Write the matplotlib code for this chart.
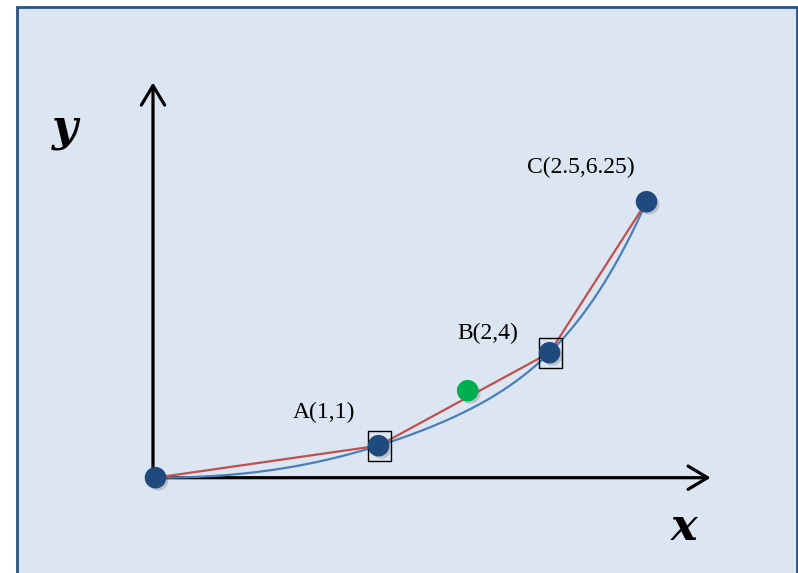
import numpy as np
import matplotlib
matplotlib.use("Agg")
import matplotlib.pyplot as plt
from matplotlib.patches import Rectangle
from matplotlib.path import Path
import matplotlib.patheffects as pe

# --- data -----------------------------------------------------------------
point_names = ["A", "B", "C"]
point_x = [1.0, 2.0, 2.5]
point_y = [1.0, 4.0, 6.25]
origin_x = [0.0]
origin_y = [0.0]
chord_x = [0.0, 1.0, 2.0, 2.5]          # secant polyline O-A-B-C
chord_y = [0.0, 1.0, 4.0, 6.25]
mid_x = [1.52]                           # highlighted point on chord AB
mid_y = [2.98]
boxed_x = [1.0, 2.0]                     # points framed by a box
boxed_y = [1.0, 4.0]
x_axis_end = 2.78
y_axis_end = 7.3

# --- a smooth, stretched schematic scale for each axis -------------------------
def _make_scale(c1, c2, c3, lo, hi):
    def fwd(v):
        v = np.asarray(v, dtype=float)
        return c1 * v + c2 * v ** 2 + c3 * v ** 3
    grid = np.linspace(lo, hi, 20001)
    gvals = fwd(grid)
    def inv(p):
        return np.interp(np.asarray(p, dtype=float), gvals, grid)
    return fwd, inv

fx, fx_inv = _make_scale(282.1, -75.6, 16.53, -3.0, 6.0)
fy, fy_inv = _make_scale(36.81, -5.953, 1.1405, -12.0, 14.0)

W, H = 798, 573
ox_px, oy_px = 155.5, 477.7     # where the origin sits on the canvas

fig = plt.figure(figsize=(W / 100, H / 100), dpi=100)
fig.patch.set_facecolor("white")

# slide panel
panel = Rectangle((17 / W, -0.02), (797 - 17) / W, (H - 7) / H + 0.02,
                  transform=fig.transFigure, facecolor="#DCE6F2",
                  edgecolor="#2C5282", linewidth=2.0, zorder=-5)
fig.patches.append(panel)

ax = fig.add_axes([0, 0, 1, 1])
ax.set_zorder(1)
ax.patch.set_alpha(0)
ax.set_xscale("function", functions=(fx, fx_inv))
ax.set_yscale("function", functions=(fy, fy_inv))
ax.set_xlim(float(fx_inv(-ox_px)), float(fx_inv(W - ox_px)))
ax.set_ylim(float(fy_inv(-(H - oy_px))), float(fy_inv(oy_px)))
ax.axis("off")

# coordinate axes with open arrow heads
x0 = float(fx_inv(-2.5))
y0 = float(fy_inv(-1.5))
arrow = dict(arrowstyle="->,head_length=0.7,head_width=0.42", lw=2.3,
             color="black", shrinkA=0, shrinkB=0, mutation_scale=20)
ax.annotate("", xy=(x_axis_end, 0), xytext=(x0 - 0.005, 0), arrowprops=arrow, zorder=2)
ax.annotate("", xy=(x0, y_axis_end), xytext=(x0, y0), arrowprops=arrow, zorder=2)

# the parabola y = x^2
curve_x = np.linspace(0, point_x[-1], 400)
curve_y = curve_x ** 2
ax.plot(curve_x, curve_y, color="#4A7EBB", lw=1.6, zorder=3)

# secant polyline
ax.plot(chord_x, chord_y, color="#C0504D", lw=1.6, zorder=3)

shadow = [pe.SimplePatchShadow(offset=(2, -2), alpha=0.25, shadow_rgbFace="#555555"),
          pe.Normal()]

# boxes around A and B
box = Path([(-23, -30), (23, -30), (23, 30), (-23, 30), (-23, -30)],
           [Path.MOVETO, Path.LINETO, Path.LINETO, Path.LINETO, Path.CLOSEPOLY])
ax.plot(boxed_x, boxed_y, ls="none", marker=box, markersize=21.6,
        markerfacecolor="none", markeredgecolor="black", markeredgewidth=1.0, zorder=4)

# points
ax.plot(origin_x + point_x, origin_y + point_y, ls="none", marker="o",
        markersize=14.5, color="#1F4A7E", zorder=5, path_effects=shadow)
ax.plot(mid_x, mid_y, ls="none", marker="o", markersize=14.5,
        color="#00B050", zorder=5, path_effects=shadow)

# point labels
offsets = [(-55, 33), (-62, 19), (-66, 34)]
for name, px, py, off in zip(point_names, point_x, point_y, offsets):
    ax.annotate(f"{name}({px:g},{py:g})", xy=(px, py), xytext=off,
                textcoords="offset pixels", ha="center", va="center",
                fontsize=17, family="Liberation Serif", color="black", zorder=6)

# axis names
fig.text(65 / W, 1 - 128 / H, "y", fontsize=32, family="DejaVu Serif",
         fontweight="bold", fontstyle="italic", ha="center", va="center")
fig.text(684 / W, 1 - 528 / H, "x", fontsize=32, family="DejaVu Serif",
         fontweight="bold", fontstyle="italic", ha="center", va="center")

fig.savefig("out.png", dpi=100)
